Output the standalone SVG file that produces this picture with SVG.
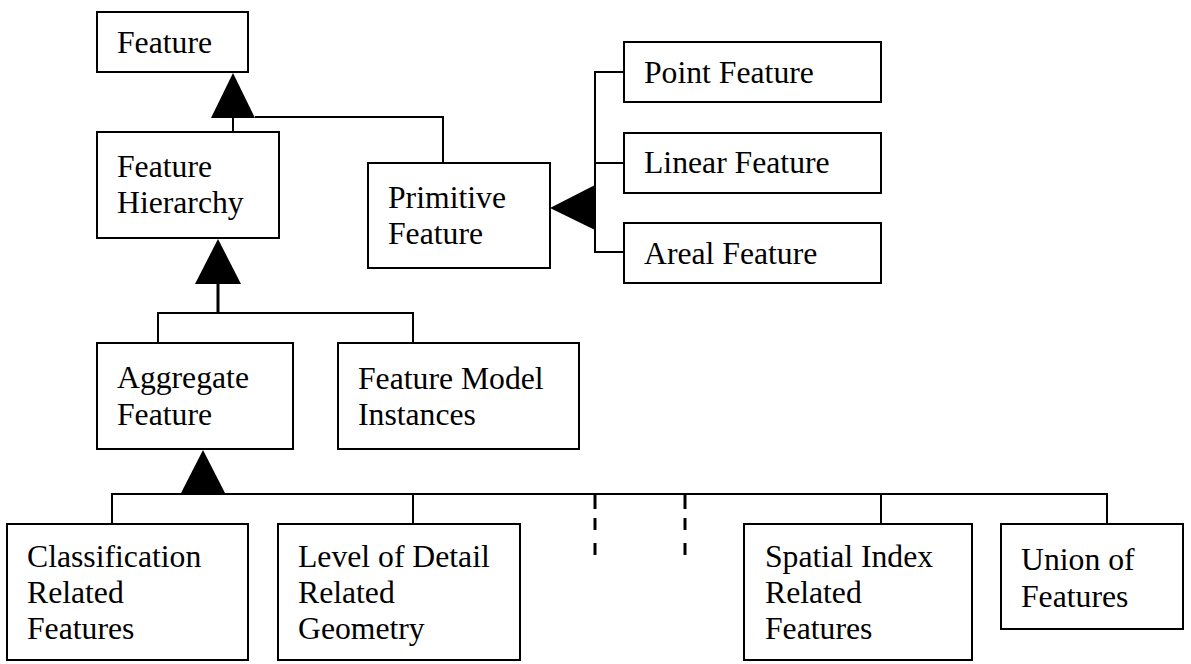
<svg xmlns="http://www.w3.org/2000/svg" width="1191" height="664" viewBox="0 0 1191 664" font-family="Liberation Serif, DejaVu Serif, serif">
  <style>
    .box { fill: #ffffff; stroke: #000000; stroke-width: 2; }
    .lbl { font-family: 'Liberation Serif', 'DejaVu Serif', serif; font-size: 31.7px; fill: #000000; }
    .wire { fill: none; stroke: #000000; stroke-width: 2; }
    .thick { fill: none; stroke: #000000; stroke-width: 3; }
    .dash { fill: none; stroke: #000000; stroke-width: 3; }
    .head { fill: #000000; stroke: none; }
  </style>
  <rect width="1191" height="664" fill="#ffffff"/>

  <!-- connectors and generalisation arrowheads -->
  <g id="connectors">
    <!-- Feature Hierarchy / Primitive Feature to Feature -->
    <polygon class="head" points="233,73 211,118 255,118"/>
    <path class="wire" d="M233,118 V132"/>
    <path class="wire" d="M255,117 H443 V163"/>

    <!-- Aggregate Feature / Feature Model Instances to Feature Hierarchy -->
    <polygon class="head" points="218,239 195,284 241,284"/>
    <path class="thick" d="M218,284 V313"/>
    <path class="wire" d="M158,343 V313 H413 V343"/>

    <!-- Point / Linear / Areal to Primitive Feature -->
    <polygon class="head" points="550,208 595,185 595,230"/>
    <path class="wire" d="M624,72 H595 V252 H624"/>
    <path class="wire" d="M595,163 H624"/>

    <!-- children of Aggregate Feature -->
    <polygon class="head" points="203,450 180,495 226,495"/>
    <path class="wire" d="M112,524 V494 H1107 V524"/>
    <path class="wire" d="M413,494 V524"/>
    <path class="wire" d="M881,494 V524"/>
    <path class="dash" d="M595,494 V509 M595,518 V530 M595,543 V555"/>
    <path class="dash" d="M685,494 V509 M685,518 V530 M685,543 V555"/>
  </g>

  <g id="feature">
    <rect class="box" x="97" y="12" width="151" height="60"/>
    <text class="lbl" x="117" y="53">Feature</text>
  </g>

  <g id="feature-hierarchy">
    <rect class="box" x="97" y="132" width="182" height="106"/>
    <text class="lbl" x="117" y="177">Feature</text>
    <text class="lbl" x="117" y="213">Hierarchy</text>
  </g>

  <g id="primitive-feature">
    <rect class="box" x="368" y="163" width="182" height="105"/>
    <text class="lbl" x="388" y="208">Primitive</text>
    <text class="lbl" x="388" y="244">Feature</text>
  </g>

  <g id="point-feature">
    <rect class="box" x="624" y="42" width="257" height="60"/>
    <text class="lbl" x="644" y="83">Point Feature</text>
  </g>

  <g id="linear-feature">
    <rect class="box" x="624" y="133" width="257" height="60"/>
    <text class="lbl" x="644" y="173">Linear Feature</text>
  </g>

  <g id="areal-feature">
    <rect class="box" x="624" y="223" width="257" height="60"/>
    <text class="lbl" x="644" y="264">Areal Feature</text>
  </g>

  <g id="aggregate-feature">
    <rect class="box" x="97" y="343" width="196" height="106"/>
    <text class="lbl" x="117" y="388">Aggregate</text>
    <text class="lbl" x="117" y="425">Feature</text>
  </g>

  <g id="feature-model-instances">
    <rect class="box" x="338" y="343" width="241" height="106"/>
    <text class="lbl" x="358" y="389">Feature Model</text>
    <text class="lbl" x="358" y="425">Instances</text>
  </g>

  <g id="classification-related-features">
    <rect class="box" x="7" y="524" width="241" height="136"/>
    <text class="lbl" x="27" y="567">Classification</text>
    <text class="lbl" x="27" y="603">Related</text>
    <text class="lbl" x="27" y="639">Features</text>
  </g>

  <g id="lod-related-geometry">
    <rect class="box" x="278" y="524" width="242" height="136"/>
    <text class="lbl" x="298" y="567">Level of Detail</text>
    <text class="lbl" x="298" y="603">Related</text>
    <text class="lbl" x="298" y="639">Geometry</text>
  </g>

  <g id="spatial-index-related-features">
    <rect class="box" x="744" y="524" width="228" height="136"/>
    <text class="lbl" x="765" y="567">Spatial Index</text>
    <text class="lbl" x="765" y="603">Related</text>
    <text class="lbl" x="765" y="639">Features</text>
  </g>

  <g id="union-of-features">
    <rect class="box" x="1001" y="524" width="182" height="105"/>
    <text class="lbl" x="1021" y="570">Union of</text>
    <text class="lbl" x="1021" y="607">Features</text>
  </g>
</svg>
